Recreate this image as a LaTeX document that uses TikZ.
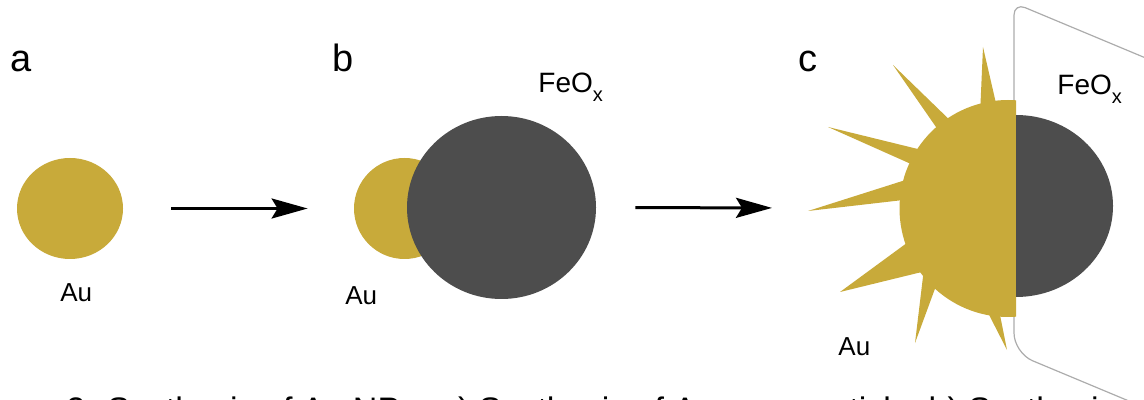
\documentclass[tikz,border=0pt]{standalone}
\usepackage{fontspec}
\setmainfont{Liberation Sans}
\usetikzlibrary{arrows.meta,shapes.geometric}
\definecolor{aufill}{RGB}{200,170,58}
\definecolor{oxfill}{RGB}{77,77,77}
\definecolor{planegray}{RGB}{172,172,172}
\newcommand{\feox}{FeO\raisebox{-4.5pt}{\fontsize{10}{12}\selectfont x}}
\tikzset{
  panel/.style={font=\fontsize{19}{22}\selectfont,anchor=base west,inner sep=0pt},
  elem/.style={font=\fontsize{13}{15}\selectfont,anchor=base west,inner sep=0pt},
  oxlabel/.style={font=\fontsize{14}{16}\selectfont,anchor=base west,inner sep=0pt},
  caption/.style={font=\fontsize{17}{20}\selectfont,anchor=base west,inner sep=0pt},
  gold/.style={ellipse,fill=aufill,inner sep=0pt},
  oxide/.style={ellipse,fill=oxfill,inner sep=0pt},
  spike/.style={fill=aufill},
  plane/.style={draw=planegray,line width=0.6pt},
  arrow/.style={-{Stealth[length=18pt,width=10pt,inset=3pt]},line width=1.5pt}
}

\begin{document}
\begin{tikzpicture}[x=0.5pt,y=-0.5pt]

  \useasboundingbox (0,0) rectangle (1144,400);
  \clip (0,0) rectangle (1144,400);

  % a) bare gold particle
  \node[panel] (labA) at (10,72) {a};
  \node[gold,minimum width=53pt,minimum height=50.5pt] (auA) at (70,208.5) {};
  \node[elem] (elA) at (60,302) {Au};

  % b) oxide grown on the gold seed
  \node[panel] (labB) at (332,72) {b};
  \node[gold,minimum width=50.5pt,minimum height=50.5pt] (auB) at (404.5,208.5) {};
  \node[oxide,minimum width=94.5pt,minimum height=91.5pt] (oxB) at (501.5,207.5) {};
  \node[elem] (elB) at (345,305) {Au};
  \node[oxlabel] (fexB) at (538,93) {\feox};

  % c) spiky gold on the oxide, with the support plane
  \node[panel] (labC) at (798,72) {c};
  \coordinate (auC) at (1008,208.5);

  \draw[plane,rounded corners=6pt] (1160,64) -- (1014,3) -- (1014,200);
  \draw[plane,rounded corners=10pt] (1014,200) -- (1014,353) -- (1160,414);

  \fill[spike] (983,47) -- (980,115) -- (998,112) -- cycle;
  \fill[spike] (893,65) -- (945,140) -- (958,128) -- cycle;
  \fill[spike] (828,127) -- (920,168) -- (930,152) -- cycle;
  \fill[spike] (808,211) -- (912,199) -- (915,177) -- cycle;
  \fill[spike] (840,292) -- (915,237) -- (930,270) -- cycle;
  \fill[spike] (915,343) -- (925,260) -- (940,275) -- cycle;
  \fill[spike] (1007,350) -- (984,305) -- (998,305) -- cycle;
  \begin{scope}
    \clip (880,90) rectangle (1016,330);
    \fill[aufill] (auC) ellipse [x radius=108.5,y radius=108.5];
  \end{scope}
  \fill[oxfill] (1016,115) arc [start angle=-90,end angle=90,x radius=97,y radius=91] -- cycle;

  \node[elem] (elC) at (838,355) {Au};
  \node[oxlabel] (fexC) at (1057,95) {\feox};

  \draw[arrow,shorten <=24pt,shorten >=23pt] (auA.east) -- (auB.west);
  \draw[arrow,shorten <=19.5pt,shorten >=118pt] (oxB.east) -- (auC);

  \node[caption] (capt) at (66,421) {2. Synthesis of Au NPs. a) Synthesis of Au nanoparticle; b) Synthesis};

\end{tikzpicture}
\end{document}
